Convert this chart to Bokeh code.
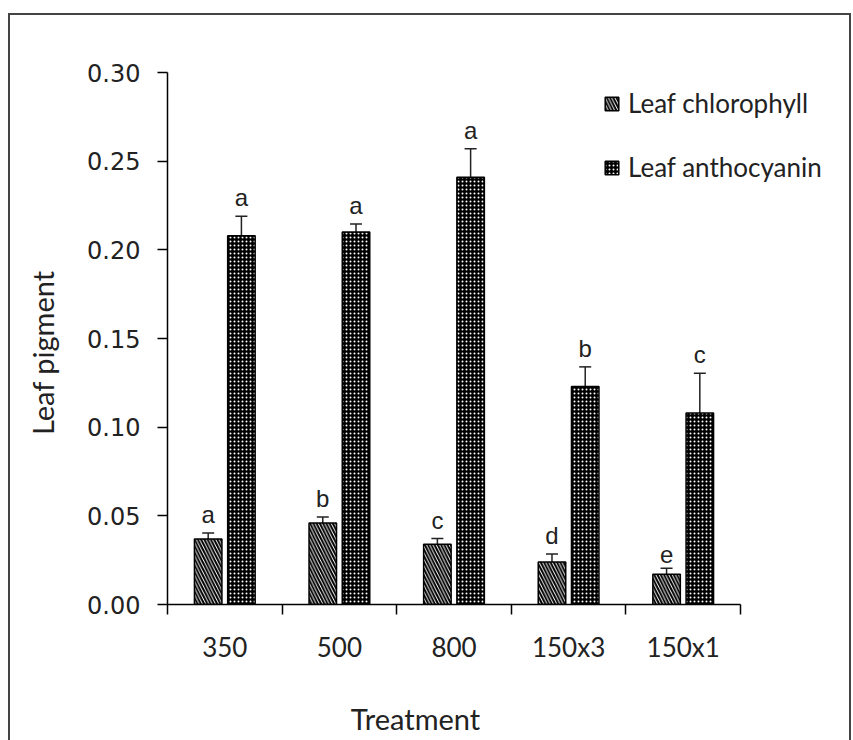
import math
from bokeh.plotting import figure
from bokeh.layouts import column, row
from bokeh.models import (Range1d, FixedTicker, ColumnDataSource, Whisker, TeeHead,
                          Legend, LegendItem, PrintfTickFormatter)
from bokeh.core.properties import value
from bokeh.embed import file_html
from bokeh.resources import INLINE

# ---- data ----
treatments = ["350", "500", "800", "150x3", "150x1"]
chlorophyll = [0.037, 0.046, 0.034, 0.024, 0.017]
chlorophyll_err = [0.0033, 0.0033, 0.0032, 0.0045, 0.0034]
chlorophyll_letters = ["a", "b", "c", "d", "e"]
anthocyanin = [0.208, 0.210, 0.241, 0.123, 0.108]
anthocyanin_err = [0.011, 0.0045, 0.016, 0.011, 0.0224]
anthocyanin_letters = ["a", "a", "a", "b", "c"]
y_ticks = [0.0, 0.05, 0.10, 0.15, 0.20, 0.25, 0.30]
x_title = "Treatment"
y_title = "Leaf pigment"

# ---- layout constants ----
W_YT = 50                      # strip on the left carrying the y title
W, H_MAIN, H_TITLE = 839 - W_YT, 680, 45
LEFT, TOP = 157 - W_YT, 57
BOTTOM = H_MAIN - 589
FRAME_W = 668           # plot frame width (legend spills past the axis end)
AXIS_W = 573            # pixel length of the category axis
RIGHT = W - LEFT - FRAME_W
X_TITLE_POS = 2.164     # horizontal position of the x title (axis units)
Y_TITLE_POS = 0.142     # vertical position of the y title (axis units)

n = len(treatments)
centers = [i + 0.5 for i in range(n)]
off = 0.145
bw = 0.24
x_end = n * FRAME_W / AXIS_W
xr = Range1d(0, x_end)
yr = Range1d(0, 0.30)

src_c = ColumnDataSource(dict(
    x=[c - off for c in centers], top=chlorophyll,
    upper=[v + e for v, e in zip(chlorophyll, chlorophyll_err)],
    lab=chlorophyll_letters))
src_a = ColumnDataSource(dict(
    x=[c + off for c in centers], top=anthocyanin,
    upper=[v + e for v, e in zip(anthocyanin, anthocyanin_err)],
    lab=anthocyanin_letters))

p = figure(width=W, height=H_MAIN, x_range=xr, y_range=yr,
           output_backend="svg", toolbar_location=None,
           min_border_left=LEFT, min_border_right=RIGHT, min_border_top=TOP,
           min_border_bottom=BOTTOM)
p.background_fill_color = "white"
p.border_fill_color = "white"
p.outline_line_color = None
p.xgrid.visible = False
p.ygrid.visible = False

rc = p.vbar(x="x", top="top", width=bw, bottom=0, source=src_c,
            fill_color="white", line_color="black", line_width=1.5,
            hatch_pattern="\\", hatch_color="black", hatch_scale=6.5, hatch_weight=2)
ra = p.vbar(x="x", top="top", width=bw, bottom=0, source=src_a,
            fill_color="black", line_color="black", line_width=1.5,
            hatch_pattern="dot", hatch_color="white", hatch_scale=4, hatch_weight=1)

for s in (src_c, src_a):
    w = Whisker(base="x", upper="upper", lower="top", source=s,
                upper_head=TeeHead(size=12, line_width=1.5, line_color="#222"),
                lower_head=None, line_width=1.5, line_color="#222")
    p.add_layout(w)
    p.text(x="x", y="upper", text="lab", source=s, text_align="center",
           text_baseline="bottom", y_offset=-5, text_font=value("Liberation Sans"),
           text_font_size="24px", text_color="#222")

# y axis
ya = p.yaxis[0]
ya.ticker = FixedTicker(ticks=y_ticks)
ya.formatter = PrintfTickFormatter(format="%.2f")
ya.major_tick_out = 10
ya.major_tick_in = 0
ya.minor_tick_out = 0
ya.minor_tick_in = 0
ya.major_label_standoff = 17
ya.major_label_text_font = "DejaVu Sans"
ya.major_label_text_font_size = "24px"
ya.major_label_text_color = "#222"
ya.axis_line_color = "black"
ya.axis_line_width = 1.5
ya.major_tick_line_width = 1.5

# x axis: labels at centers, ticks at boundaries
xa = p.xaxis[0]
xa.bounds = (0, n)
xa.ticker = FixedTicker(ticks=centers, minor_ticks=list(range(n + 1)))
xa.major_label_overrides = {c: t for c, t in zip(centers, treatments)}
xa.major_tick_out = 0
xa.major_tick_in = 0
xa.minor_tick_out = 10
xa.minor_tick_in = 0
xa.minor_tick_line_color = "black"
xa.minor_tick_line_width = 1.5
xa.major_label_standoff = 16
xa.major_label_text_font = "Lato"
xa.major_label_text_font_size = "26px"
xa.major_label_text_color = "#222"
xa.axis_line_color = "black"
xa.axis_line_width = 1.5

legend = Legend(items=[LegendItem(label="Leaf chlorophyll", renderers=[rc]),
                       LegendItem(label="Leaf anthocyanin", renderers=[ra])],
                location=(436, 421), orientation="vertical")
legend.border_line_color = None
legend.background_fill_alpha = 0
legend.padding = 0
legend.margin = 0
legend.glyph_width = 17
legend.glyph_height = 17
legend.label_height = 30
legend.spacing = 32
legend.label_standoff = 8
legend.label_text_font = "Lato"
legend.label_text_font_size = "26px"
legend.label_text_color = "#222"
p.add_layout(legend)


def strip(width, height, x_range, y_range, mt, mb, ml, mr):
    f = figure(width=width, height=height, x_range=x_range, y_range=y_range,
               output_backend="svg", toolbar_location=None,
               x_axis_location=None, y_axis_location=None,
               min_border_left=ml, min_border_right=mr, min_border_top=mt,
               min_border_bottom=mb)
    f.outline_line_color = None
    f.background_fill_color = "white"
    f.border_fill_color = "white"
    f.xgrid.visible = False
    f.ygrid.visible = False
    return f


# strip below the chart carrying the x title, sharing the x range
p2 = strip(W, H_TITLE, xr, Range1d(0, 1), 0, 0, LEFT, RIGHT)
p2.text(x=[X_TITLE_POS], y=[0.5], text=[x_title], text_align="center",
        text_baseline="middle", text_font=value("Lato"), text_font_size="29px",
        text_color="#222")

# strip on the left carrying the y title, sharing the y range
pl = strip(W_YT, H_MAIN, Range1d(0, 1), yr, TOP, BOTTOM, 0, 0)
pl.text(x=[0.64], y=[Y_TITLE_POS], text=[y_title], angle=math.pi / 2,
        text_align="center", text_baseline="middle", text_font=value("Lato"),
        text_font_size="29px", text_color="#222")

layout = row(pl, column(p, p2, spacing=0), spacing=0)
layout.styles = {"border-top": "2px solid #444", "border-left": "2px solid #444",
                 "border-right": "2px solid #444",
                 "margin-left": "8px", "margin-top": "13px"}

open("out.html", "w").write(file_html(layout, INLINE))
